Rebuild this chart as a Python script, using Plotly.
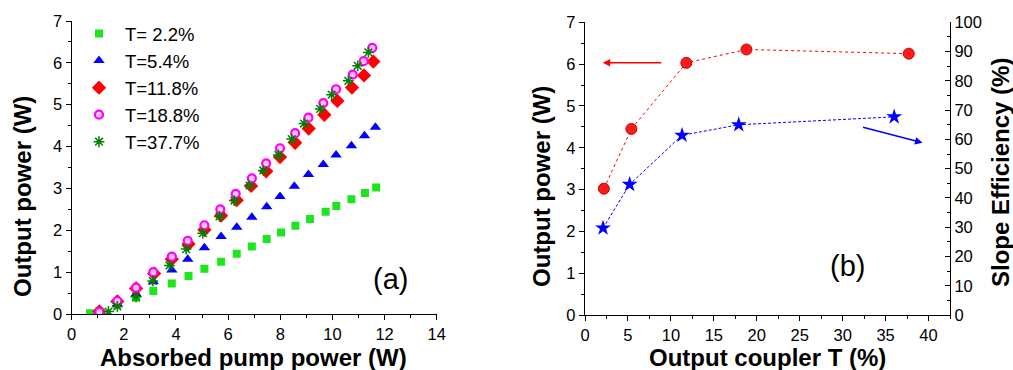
import plotly.graph_objects as go

W, H = 1013, 370

# ---------- Panel (a) data ----------
x_t22 = [0.70, 1.06, 1.75, 2.47, 3.13, 3.84, 4.48, 5.09, 5.73, 6.33, 6.91, 7.48, 8.03, 8.58, 9.14, 9.74, 10.15, 10.73, 11.25, 11.68]
y_t22 = [0.02, 0.07, 0.22, 0.39, 0.55, 0.73, 0.91, 1.08, 1.25, 1.44, 1.61, 1.79, 1.95, 2.11, 2.27, 2.44, 2.58, 2.74, 2.89, 3.02]

x_t54 = [1.06, 1.75, 2.47, 3.13, 3.84, 4.45, 5.09, 5.73, 6.33, 6.91, 7.48, 7.99, 8.54, 9.08, 9.65, 10.14, 10.73, 11.23, 11.65]
y_t54 = [0.06, 0.24, 0.48, 0.77, 1.05, 1.31, 1.58, 1.85, 2.07, 2.31, 2.56, 2.81, 3.05, 3.33, 3.57, 3.80, 4.02, 4.26, 4.46]

x_t118 = [1.06, 1.75, 2.47, 3.16, 3.84, 4.48, 5.09, 5.73, 6.33, 6.88, 7.46, 7.99, 8.57, 9.09, 9.69, 10.19, 10.75, 11.21, 11.57]
y_t118 = [0.06, 0.30, 0.61, 0.97, 1.31, 1.67, 2.01, 2.35, 2.72, 3.06, 3.41, 3.75, 4.09, 4.43, 4.76, 5.09, 5.41, 5.70, 6.03]

x_t188 = [1.06, 1.75, 2.47, 3.13, 3.84, 4.45, 5.09, 5.70, 6.29, 6.91, 7.46, 7.99, 8.57, 9.08, 9.65, 10.14, 10.78, 11.20, 11.53]
y_t188 = [0.05, 0.31, 0.63, 1.00, 1.37, 1.75, 2.12, 2.50, 2.87, 3.24, 3.60, 3.96, 4.32, 4.69, 5.04, 5.37, 5.72, 6.04, 6.36]

x_t377 = [1.41, 1.75, 2.47, 3.11, 3.75, 4.39, 5.03, 5.67, 6.24, 6.82, 7.35, 7.93, 8.44, 8.91, 9.53, 9.97, 10.61, 10.97, 11.38]
y_t377 = [0.06, 0.18, 0.41, 0.79, 1.16, 1.55, 1.93, 2.33, 2.71, 3.07, 3.43, 3.80, 4.18, 4.55, 4.90, 5.24, 5.57, 5.93, 6.25]

legend_names = ["T= 2.2%", "T=5.4%", "T=11.8%", "T=18.8%", "T=37.7%"]

# ---------- Panel (b) data ----------
T_power = [2.2, 5.4, 11.8, 18.8, 37.7]
max_power = [3.02, 4.45, 6.03, 6.35, 6.25]
T_slope = [2.1, 5.2, 11.3, 17.9, 36.0]
slope_eff = [29.7, 44.6, 61.4, 65.0, 67.7]

FONT = "Liberation Sans, Arial, sans-serif"

fig = go.Figure()

fig.add_trace(go.Scatter(x=x_t22, y=y_t22, mode="markers", name=legend_names[0],
                         marker=dict(symbol="square", size=8, color="#1ee61e"),
                         xaxis="x", yaxis="y"))
fig.add_trace(go.Scatter(x=x_t54, y=y_t54, mode="markers", name=legend_names[1],
                         marker=dict(symbol="triangle-up", size=10, color="#0000ff"),
                         xaxis="x", yaxis="y"))
fig.add_trace(go.Scatter(x=x_t118, y=y_t118, mode="markers", name=legend_names[2],
                         marker=dict(symbol="diamond", size=11, color="#ff0000"),
                         xaxis="x", yaxis="y"))
fig.add_trace(go.Scatter(x=x_t188, y=y_t188, mode="markers", name=legend_names[3],
                         marker=dict(symbol="circle", size=8, color="#ffc6ff",
                                     line=dict(color="#ff00ff", width=2.2)),
                         xaxis="x", yaxis="y"))
fig.add_trace(go.Scatter(x=x_t377, y=y_t377, mode="markers", name=legend_names[4],
                         marker=dict(symbol="asterisk-open", size=9, color="#008000",
                                     line=dict(color="#008000", width=1.5)),
                         xaxis="x", yaxis="y"))

fig.add_trace(go.Scatter(x=T_power, y=max_power, mode="lines+markers", showlegend=False,
                         line=dict(color="#ff0000", width=1, dash="dot"),
                         marker=dict(symbol="circle", size=11, color="#ff1a1a",
                                     line=dict(color="#cc0000", width=1)),
                         xaxis="x2", yaxis="y2"))
fig.add_trace(go.Scatter(x=T_slope, y=slope_eff, mode="lines+markers", showlegend=False,
                         line=dict(color="#0000ff", width=1, dash="3px,2px"),
                         marker=dict(symbol="star", size=12, color="#0000ff"),
                         xaxis="x2", yaxis="y3"))

TICKFONT = dict(family=FONT, size=16.5, color="black")
axis_common = dict(showline=True, linecolor="black", linewidth=1.3, showgrid=False,
                   zeroline=False, ticks="outside", ticklen=5, tickwidth=1.2,
                   tickcolor="black", tickfont=TICKFONT, automargin=False)

fig.update_layout(
    width=W, height=H,
    margin=dict(l=0, r=0, t=0, b=0, autoexpand=False),
    paper_bgcolor="white", plot_bgcolor="white",
    font=dict(family=FONT, color="black"),
    xaxis=dict(domain=[71.7 / W, 436.7 / W], range=[0, 14], dtick=2, anchor="y",
               minor=dict(dtick=1, ticks="outside", ticklen=3, tickcolor="black"),
               **axis_common),
    yaxis=dict(domain=[1 - 314 / H, 1 - 21 / H], range=[0, 7], dtick=1, anchor="x",
               minor=dict(dtick=0.5, ticks="outside", ticklen=3, tickcolor="black"),
               **axis_common),
    xaxis2=dict(domain=[585 / W, 950 / W], range=[0, 42.5], dtick=5, anchor="y2",
                minor=dict(dtick=2.5, ticks="outside", ticklen=3, tickcolor="black"),
                **axis_common),
    yaxis2=dict(domain=[1 - 315 / H, 1 - 22.3 / H], range=[0, 7], dtick=1, anchor="x2",
                minor=dict(dtick=0.5, ticks="outside", ticklen=3, tickcolor="black"),
                **axis_common),
    yaxis3=dict(domain=[1 - 315 / H, 1 - 22.3 / H], range=[0, 100], dtick=10,
                overlaying="y2", side="right", anchor="x2", automargin=False,
                showline=True, linecolor="black", linewidth=1.3, showgrid=False,
                zeroline=False, ticks="inside", ticklen=5, tickwidth=1.2, tickcolor="black",
                tickfont=TICKFONT,
                minor=dict(dtick=5, ticks="inside", ticklen=3, tickcolor="black")),
    legend=dict(x=73 / W, y=1 - 15 / H, xanchor="left", yanchor="top",
                font=dict(family=FONT, size=18.5, color="black"),
                bgcolor="rgba(0,0,0,0)", itemwidth=42, tracegroupgap=0),
)

def paper_text(text, px, py, size, angle=0, bold=True):
    f = dict(family=FONT, size=size, color="black")
    if bold:
        f["weight"] = "bold"
    fig.add_annotation(text=text, x=px / W, y=1 - py / H, xref="paper", yref="paper",
                       showarrow=False, textangle=angle, font=f,
                       xanchor="center", yanchor="middle")

paper_text("Absorbed pump power (W)", 253, 357.5, 24)
paper_text("Output power (W)", 22, 197, 24, angle=-90)
paper_text("Output coupler T (%)", 767, 357.5, 24)
paper_text("Output power (W)", 542, 187, 24, angle=-90)
paper_text("Slope Efficiency (%)", 1000, 173, 24, angle=-90)
paper_text("(a)", 390, 279, 29, bold=False)
paper_text("(b)", 847, 266, 29, bold=False)

# arrows in panel (b)
red_arrow = dict(head=(2.06, 6.035), tail=(9.05, 6.035))
blue_arrow = dict(head=(39.3, 4.12), tail=(32.2, 4.50))
for arr, col in ((red_arrow, "#ff0000"), (blue_arrow, "#0000ff")):
    fig.add_annotation(x=arr["head"][0], y=arr["head"][1], ax=arr["tail"][0], ay=arr["tail"][1],
                       xref="x2", yref="y2", axref="x2", ayref="y2", text="",
                       showarrow=True, arrowhead=2, arrowsize=1, arrowwidth=1.5, arrowcolor=col)

fig.write_html("out.html")
